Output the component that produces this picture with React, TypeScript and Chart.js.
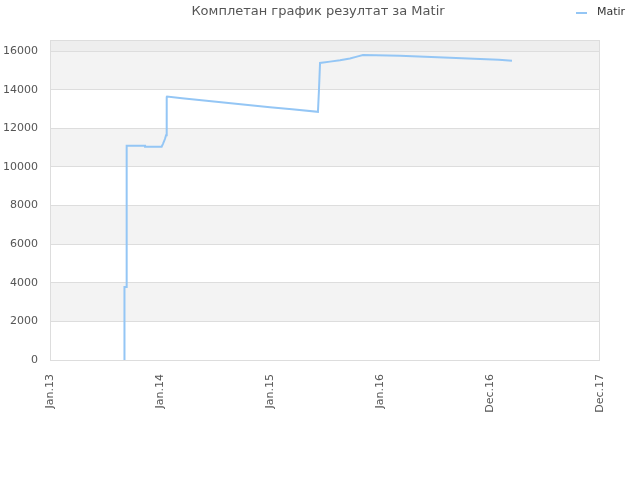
import React, { useEffect, useRef } from 'react';
import { Chart, registerables } from 'chart.js';

Chart.register(...registerables);

// x positions are in tick units (0 = Jan.13, 1 = Jan.14, ... 5 = Dec.17)
const tickLabels = ['Jan.13', 'Jan.14', 'Jan.15', 'Jan.16', 'Dec.16', 'Dec.17'];
const yTicks = [0, 2000, 4000, 6000, 8000, 10000, 12000, 14000, 16000];
const positions = [
  0.673, 0.673, 0.679, 0.679, 0.691, 0.691, 0.7, 0.7, 0.864, 0.864, 1.015, 1.027, 1.045, 1.055, 1.061,
  1.064, 1.2, 1.4, 1.6, 1.8, 2.0, 2.2, 2.436, 2.445, 2.455, 2.545, 2.636, 2.727, 2.79, 2.845, 2.964,
  3.18, 3.41, 3.636, 3.855, 4.08, 4.2,
];
const scores = [
  0, 2590, 2590, 3780, 3780, 7730, 7730, 11100, 11100, 11050, 11050, 11200, 11450, 11650, 13620,
  13650, 13560, 13450, 13330, 13210, 13100, 12990, 12860, 13980, 15390, 15460, 15530, 15620, 15720, 15800, 15790,
  15760, 15710, 15660, 15610, 15560, 15500,
];
const seriesName = 'Matir';
const title = 'Комплетан график резултат за Matir';

const LINE = '#94c6f5';
const FONT = '"DejaVu Sans", sans-serif';

const decor = {
  id: 'decor',
  beforeDraw(chart: any) {
    const { ctx, chartArea: a, scales } = chart;
    const y = scales.y;
    ctx.save();
    for (let v = 2000; v < 16000; v += 4000) {
      const top = y.getPixelForValue(v + 2000);
      const bot = y.getPixelForValue(v);
      ctx.fillStyle = '#f3f3f3';
      ctx.fillRect(a.left, top, a.right - a.left, bot - top);
    }
    const t16 = y.getPixelForValue(16000);
    ctx.fillStyle = '#eeeeee';
    ctx.fillRect(a.left, a.top, a.right - a.left, t16 - a.top);
    ctx.restore();
  },
  afterDraw(chart: any) {
    const { ctx, chartArea: a } = chart;
    ctx.save();
    ctx.strokeStyle = '#dddddd';
    ctx.lineWidth = 1;
    ctx.strokeRect(a.left + 0.5, a.top + 0.5, a.right - a.left - 1, a.bottom - a.top);
    ctx.fillStyle = '#555555';
    ctx.font = `13px ${FONT}`;
    ctx.textAlign = 'center';
    ctx.textBaseline = 'middle';
    ctx.fillText(title, 318, 12);
    ctx.strokeStyle = LINE;
    ctx.lineWidth = 2;
    ctx.beginPath();
    ctx.moveTo(576, 13);
    ctx.lineTo(587, 13);
    ctx.stroke();
    ctx.fillStyle = '#333333';
    ctx.font = `11px ${FONT}`;
    ctx.textAlign = 'left';
    ctx.fillText(seriesName, 597, 12);
    ctx.restore();
  },
};

const App: React.FC = () => {
  const canvasRef = useRef<HTMLCanvasElement>(null);

  useEffect(() => {
    document.body.style.margin = '0';
    if (!canvasRef.current) return;
    const chart = new Chart(canvasRef.current, {
      type: 'line',
      data: {
        datasets: [
          {
            label: seriesName,
            data: positions.map((x, i) => ({ x, y: scores[i] })),
            borderColor: LINE,
            borderWidth: 2,
            pointRadius: 0,
            fill: false,
            tension: 0,
          },
        ],
      },
      options: {
        animation: false,
        responsive: true,
        maintainAspectRatio: false,
        layout: { padding: { top: 40, right: 40, left: 0, bottom: 0 } },
        plugins: { legend: { display: false }, title: { display: false }, tooltip: { enabled: false } },
        scales: {
          x: {
            type: 'linear',
            min: 0,
            max: 5,
            afterFit: (s: any) => {
              s.height = 120;
            },
            ticks: {
              stepSize: 1,
              autoSkip: false,
              maxRotation: 90,
              minRotation: 90,
              padding: 6,
              color: '#555555',
              font: { family: FONT, size: 11 },
              callback: (v: any) => tickLabels[v] ?? '',
            },
            grid: { display: false },
            border: { display: false },
          },
          y: {
            min: 0,
            max: 16580,
            afterFit: (s: any) => {
              s.width = 50;
            },
            afterBuildTicks: (s: any) => {
              s.ticks = yTicks.map((value) => ({ value }));
            },
            ticks: {
              padding: 12,
              color: '#555555',
              font: { family: FONT, size: 11 },
              callback: (v: any) => String(v),
            },
            grid: { color: '#dddddd', drawTicks: false },
            border: { display: false },
          },
        },
      },
      plugins: [decor],
    });
    return () => chart.destroy();
  }, []);

  return (
    <div style={{ position: 'relative', width: 640, height: 480 }}>
      <canvas ref={canvasRef} />
    </div>
  );
};

export default App;
